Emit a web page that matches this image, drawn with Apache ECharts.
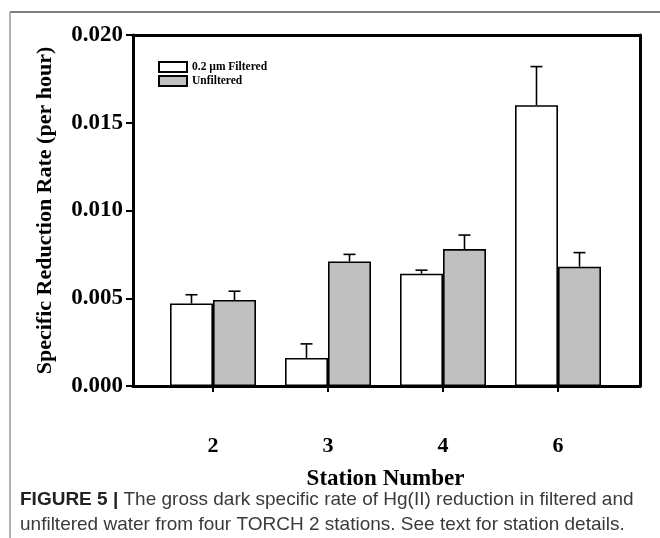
<!DOCTYPE html>
<html><head><meta charset="utf-8">
<script src="https://cdn.jsdelivr.net/npm/echarts@6/dist/echarts.min.js"></script>
<style>html,body{margin:0;padding:0;background:#fff}#c{width:660px;height:538px}</style>
</head><body><div id="c"></div>
<script>
// ---- data ----
const stations = ['2', '3', '4', '6'];
const filtered = [0.0047, 0.0016, 0.0064, 0.0160];
const filteredErr = [0.0005, 0.0008, 0.0002, 0.0022];
const unfiltered = [0.0049, 0.0071, 0.0078, 0.0068];
const unfilteredErr = [0.0005, 0.0004, 0.0008, 0.0008];
const seriesNames = ['0.2 \u00b5m Filtered', 'Unfiltered'];
const yMin = 0, yMax = 0.02, yStep = 0.005;

// ---- style ----
const BAR_W = 43;
const serif = '"Liberation Serif", "Times New Roman", serif';
const sans = '"Liberation Sans", Arial, sans-serif';
const boxLine = { color: '#000', width: 3 };

function errSeries(vals, errs, offset) {
  return {
    type: 'custom', xAxisIndex: 2, yAxisIndex: 2, z: 5, silent: true,
    encode: { x: 0, y: [1, 2] },
    data: vals.map((v, i) => [i, v, v + errs[i]]),
    renderItem(params, api) {
      const i = api.value(0);
      const b = api.coord([i, api.value(1)]);
      const t = api.coord([i, api.value(2)]);
      const x = b[0] + offset;
      const st = { stroke: '#000', lineWidth: 1.6 };
      return { type: 'group', children: [
        { type: 'line', shape: { x1: x, y1: b[1], x2: x, y2: t[1] }, style: st },
        { type: 'line', shape: { x1: x - 6, y1: t[1], x2: x + 6, y2: t[1] }, style: st }
      ] };
    }
  };
}

const chart = echarts.init(document.getElementById('c'), null, { renderer: 'canvas' });
chart.setOption({
  animation: false,
  backgroundColor: '#fff',
  grid: [
    { left: 133, top: 35, width: 507, height: 351 },
    { left: 155.5, top: 35, width: 460, height: 351 }
  ],
  legend: {
    data: seriesNames, orient: 'vertical', left: 153, top: 56,
    icon: 'rect', itemWidth: 28, itemHeight: 10, itemGap: 2,
    selectedMode: false,
    textStyle: { fontFamily: serif, fontWeight: 'bold', fontSize: 11.5, lineHeight: 12, color: '#000' }
  },
  xAxis: [
    { gridIndex: 0, type: 'value', min: 0, max: 1, position: 'bottom',
      axisLine: { show: true, onZero: false, lineStyle: boxLine }, axisTick: { show: false },
      axisLabel: { show: false }, splitLine: { show: false } },
    { gridIndex: 0, type: 'value', min: 0, max: 1, position: 'top',
      axisLine: { show: true, onZero: false, lineStyle: boxLine }, axisTick: { show: false },
      axisLabel: { show: false }, splitLine: { show: false } },
    { gridIndex: 1, type: 'category', data: stations, position: 'bottom',
      axisLine: { show: false },
      axisTick: { show: true, alignWithLabel: true, length: 6, lineStyle: { color: '#000', width: 2 } },
      axisLabel: { margin: 49, fontFamily: serif, fontWeight: 'bold', fontSize: 22, color: '#000' },
      name: 'Station Number', nameLocation: 'middle', nameGap: 82,
      nameTextStyle: { fontFamily: serif, fontWeight: 'bold', fontSize: 23, color: '#000' } }
  ],
  yAxis: [
    { gridIndex: 0, type: 'value', min: yMin, max: yMax, interval: yStep, position: 'left',
      axisLine: { show: true, onZero: false, lineStyle: boxLine },
      axisTick: { show: true, length: 7, lineStyle: { color: '#000', width: 2 } },
      axisLabel: { margin: 10, fontFamily: serif, fontWeight: 'bold', fontSize: 23, color: '#000',
        formatter: v => v.toFixed(3) },
      splitLine: { show: false },
      name: 'Specific Reduction Rate (per hour)', nameLocation: 'middle', nameGap: 77,
      nameTextStyle: { fontFamily: serif, fontWeight: 'bold', fontSize: 22, color: '#000' } },
    { gridIndex: 0, type: 'value', min: yMin, max: yMax, position: 'right',
      axisLine: { show: true, onZero: false, lineStyle: boxLine }, axisTick: { show: false },
      axisLabel: { show: false }, splitLine: { show: false } },
    { gridIndex: 1, type: 'value', min: yMin, max: yMax, show: false }
  ],
  series: [
    { name: seriesNames[0], type: 'bar', xAxisIndex: 2, yAxisIndex: 2, data: filtered,
      barWidth: BAR_W, barGap: '0%',
      itemStyle: { color: '#ffffff', borderColor: '#000', borderWidth: 1.6 } },
    { name: seriesNames[1], type: 'bar', xAxisIndex: 2, yAxisIndex: 2, data: unfiltered,
      barWidth: BAR_W, barGap: '0%',
      itemStyle: { color: '#c0c0c0', borderColor: '#000', borderWidth: 1.6 } },
    errSeries(filtered, filteredErr, -BAR_W / 2),
    errSeries(unfiltered, unfilteredErr, BAR_W / 2)
  ],
  graphic: [
    { type: 'line', shape: { x1: 10, y1: 12, x2: 660, y2: 12 }, style: { stroke: '#555', lineWidth: 1.5 } },
    { type: 'line', shape: { x1: 10, y1: 12, x2: 10, y2: 538 }, style: { stroke: '#999', lineWidth: 1.5 } },
    { type: 'text', left: 20, top: 487,
      style: {
        text: '{b|FIGURE 5 |} The gross dark specific rate of Hg(II) reduction in filtered and\nunfiltered water from four TORCH 2 stations. See text for station details.',
        fontFamily: sans, fontSize: 19, lineHeight: 25, fill: '#3a3a3a',
        rich: { b: { fontWeight: 'bold', fill: '#222', fontSize: 19, fontFamily: sans } }
      } }
  ]
});
</script>
</body></html>
